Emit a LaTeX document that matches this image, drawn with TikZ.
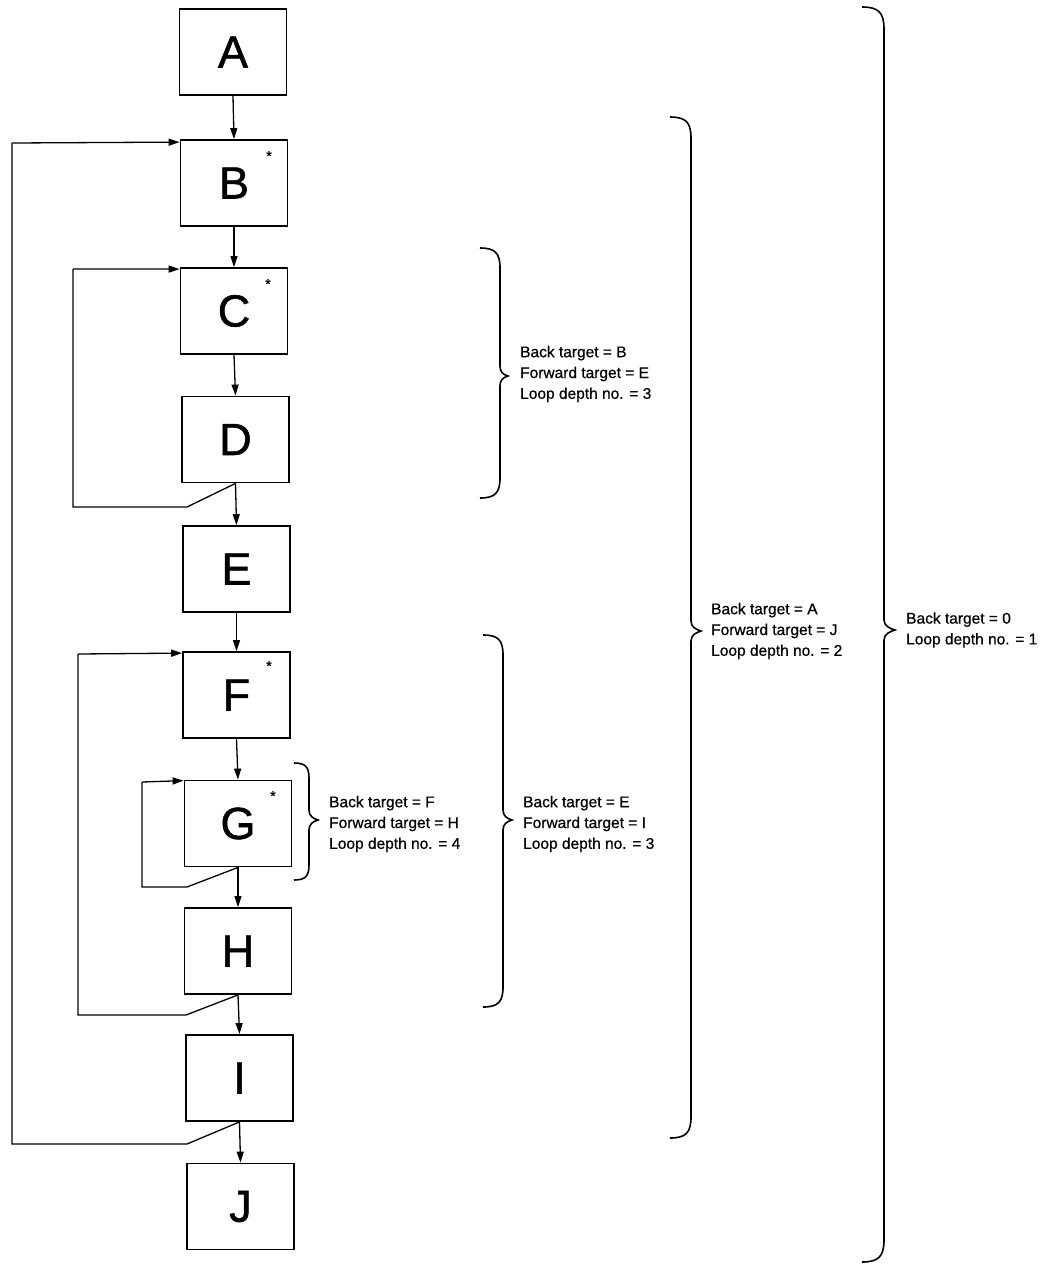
\documentclass[tikz,border=0pt]{standalone}
\usepackage{fontspec}
\setmainfont{Liberation Sans}
\newfontfamily\boldish[FakeBold=0.6]{Liberation Sans}
\newfontfamily\boldishbig[FakeBold=1.2]{Liberation Sans}
\usetikzlibrary{arrows.meta}
\newcommand\mybrace[6]{%
  \draw[bracestyle] (#1,#4) .. controls ({#1+0.75*(#2-#1)},#4) and (#2,{#4+0.25*(#2-#1)}) .. (#2,{#4+(#2-#1)})
    -- (#2,{#5-10}) .. controls (#2,{#5-4}) and ({#3-5},{#5-1.5}) .. (#3,#5)
    .. controls ({#3-5},{#5+1.5}) and (#2,{#5+4}) .. (#2,{#5+10})
    -- (#2,{#6-(#2-#1)}) .. controls (#2,{#6-0.25*(#2-#1)}) and ({#1+0.75*(#2-#1)},#6) .. (#1,#6);}
\begin{document}
\begin{tikzpicture}[x=1pt,y=-1pt,
  box/.style={draw,line width=1.8pt,minimum width=107pt,minimum height=86pt,inner sep=0pt,
    font=\boldishbig\fontsize{45}{45}\selectfont},
  flow/.style={line width=1.3pt,-{Triangle[length=11pt,width=7pt]}},
  loopline/.style={line width=1.3pt},
  bracestyle/.style={line width=1.6pt},
  lbl/.style={anchor=west,align=left,inner sep=0pt,font=\boldish\fontsize{15.5}{20.8}\selectfont},
  star/.style={inner sep=0pt,font=\boldishbig\fontsize{14}{14}\selectfont}]
\useasboundingbox (0,0) rectangle (1055,1264);
\fill[white] (0,0) rectangle (1055,1264);
% boxes
\node[box] (A) at (233,52) {A};
\node[box] (B) at (234,183) {B};
\node[box] (C) at (234,311) {C};
\node[box] (D) at (235.5,439.5) {D};
\node[box] (E) at (236.5,569) {E};
\node[box] (F) at (236.5,695) {F};
\node[box] (G) at (238,823.5) {G};
\node[box] (H) at (238,951) {H};
\node[box] (I) at (239.5,1078) {I};
\node[box] (J) at (240.5,1206.5) {J};
% stars
\node[star] (sB) at (269,156) {*};
\node[star] (sC) at (268,284) {*};
\node[star] (sF) at (269,666) {*};
\node[star] (sG) at (273,796) {*};
% forward arrows
\draw[flow] (A.south) -- (B.north);
\draw[flow] (B.south) -- (C.north);
\draw[flow] (C.south) -- (D.north);
\draw[flow] (D.south) -- (E.north);
\draw[flow] (E.south) -- (F.north);
\draw[flow] (F.south) -- (G.north);
\draw[flow] (G.south) -- (H.north);
\draw[flow] (H.south) -- (I.north);
\draw[flow] (I.south) -- (J.north);
% back loops
\coordinate (b1) at (187,1144);
\coordinate (b2) at (12,1144);
\coordinate (b3) at (12,143);
\draw[loopline] (I.south) -- (b1) -- (b2) -- (b3);
\draw[flow] (b3) -- ([yshift=-3pt]B.north west);
\coordinate (c1) at (187,507);
\coordinate (c2) at (73,507);
\coordinate (c3) at (73,269);
\draw[loopline] (D.south) -- (c1) -- (c2) -- (c3);
\draw[flow] (c3) -- ([yshift=-2pt]C.north west);
\coordinate (f1) at (186,1015);
\coordinate (f2) at (78,1015);
\coordinate (f3) at (78,654);
\draw[loopline] (H.south) -- (f1) -- (f2) -- (f3);
\draw[flow] (f3) -- ([yshift=-2pt]F.north west);
\coordinate (g1) at (187,887);
\coordinate (g2) at (142,887);
\coordinate (g3) at (142,782);
\draw[loopline] (G.south) -- (g1) -- (g2) -- (g3);
\draw[flow] (g3) -- ([yshift=-1pt]G.north west);
% braces
\mybrace{480}{500}{508}{248}{376}{498}
\mybrace{670}{691}{701}{117}{631}{1138}
\mybrace{862}{884}{895}{7}{630}{1262}
\mybrace{483}{503}{512}{635}{820}{1007}
\mybrace{294}{309}{318}{763}{820}{880}
% labels
\node[lbl] (t1) at (520,374) {Back target = B\\Forward target = E\\Loop depth no. = 3};
\node[lbl] (t2) at (711,631) {Back target = A\\Forward target = J\\Loop depth no. = 2};
\node[lbl] (t3) at (906,630) {Back target = 0\\Loop depth no. = 1};
\node[lbl] (t4) at (523,824) {Back target = E\\Forward target = I\\Loop depth no. = 3};
\node[lbl] (t5) at (329,824) {Back target = F\\Forward target = H\\Loop depth no. = 4};
\end{tikzpicture}
\end{document}
